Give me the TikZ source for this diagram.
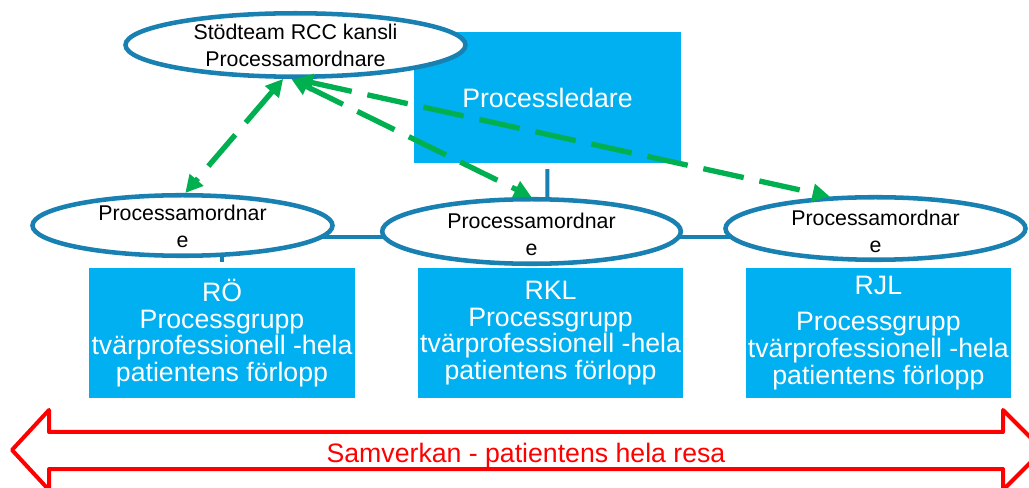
\documentclass[tikz,border=0pt]{standalone}
\usepackage{fontspec}
\setmainfont{Liberation Sans}
\usepackage{tikz}
\usetikzlibrary{shapes.geometric,arrows.meta,positioning}
\definecolor{rccblue}{RGB}{25,128,178}
\definecolor{rcccyan}{RGB}{0,176,240}
\definecolor{rccgreen}{RGB}{0,176,80}
\definecolor{rccred}{RGB}{255,0,0}
\tikzset{
  box/.style={rectangle, fill=rcccyan, text=white, inner sep=0pt, align=center, font=\fontsize{20}{20}\selectfont},
  leadbox/.style={box, minimum width=200pt, minimum height=98pt},
  regionbox/.style={box, minimum width=199pt, minimum height=97.5pt},
  oval/.style={ellipse, draw=rccblue, line width=3.4pt, fill=white, minimum width=225pt},
  ovaltext/.style={align=center, font=\fontsize{16}{20.25}\selectfont, inner sep=0pt},
  orgline/.style={draw=rccblue, line width=3pt},
  dasharrow/.style={{Triangle[length=13pt, width=13pt]}-{Triangle[length=13pt, width=13pt]}, draw=rccgreen, line width=4pt, dash pattern=on 31pt off 12pt},
  bigarrow/.style={draw=rccred, line width=3pt, line join=round, fill=white},
}
\begin{document}
\begin{tikzpicture}[x=0.75pt, y=-0.75pt, node distance=47pt]
  \useasboundingbox (0,0) rectangle (1029,488);

  % Processledare
  \node[leadbox] (lead) at (547.5,97.5) {Processledare};

  % Regional process groups
  \node[regionbox] (ro) at (222,333) {RÖ\\Processgrupp\\tvärprofessionell -hela\\patientens förlopp};
  \node[regionbox, right=of ro] (rkl) {RKL\\Processgrupp\\tvärprofessionell -hela\\patientens förlopp};
  \node[regionbox, right=46.5pt of rkl] (rjl) {RJL\\[7pt]Processgrupp\\tvärprofessionell -hela\\patientens förlopp};

  % Org lines
  \coordinate (bus) at (547,237);
  \draw[orgline, shorten <=4.5pt] (lead.south) -- (bus);
  \draw[orgline, shorten <=4.5pt, shorten >=4.5pt] (ro.north) |- (bus) -| (rjl.north);

  % Ovals
  \node[oval, minimum width=255pt, minimum height=47.6pt] (rcc) at (295.5,45) {};
  \node[ovaltext] (rcctext) at (rcc) {Stödteam RCC kansli\\Processamordnare};
  \node[oval, minimum height=45.4pt] (pa1) at (182.5,225.5) {};
  \node[ovaltext, yshift=-1pt] (pa1text) at (pa1) {Processamordnar\\e};
  \node[oval, minimum width=224pt, minimum height=48.4pt] (pa2) at (531.5,231.5) {};
  \node[ovaltext, yshift=-2pt] (pa2text) at (pa2) {Processamordnar\\e};
  \node[oval, minimum height=46.9pt] (pa3) at (875.5,228.5) {};
  \node[ovaltext, yshift=-2pt] (pa3text) at (pa3) {Processamordnar\\e};

  % Dashed arrows
  \draw[dasharrow] (rcc.-110) -- (pa1.85);
  \draw[dasharrow] (rcc.-97) -- (pa2.north);
  \draw[dasharrow] (rcc.-90) -- (pa3.145);

  % Samverkan
  \draw[bigarrow] (12,450) -- (49,410) -- (49,432) -- (1003,432) -- (1003,410) -- (1043,450)
    -- (1003,490) -- (1003,469) -- (49,469) -- (49,490) -- cycle;
  \node[font=\fontsize{20}{20}\selectfont, text=rccred, anchor=base] (sam) at (526,462) {Samverkan - patientens hela resa};
\end{tikzpicture}
\end{document}
